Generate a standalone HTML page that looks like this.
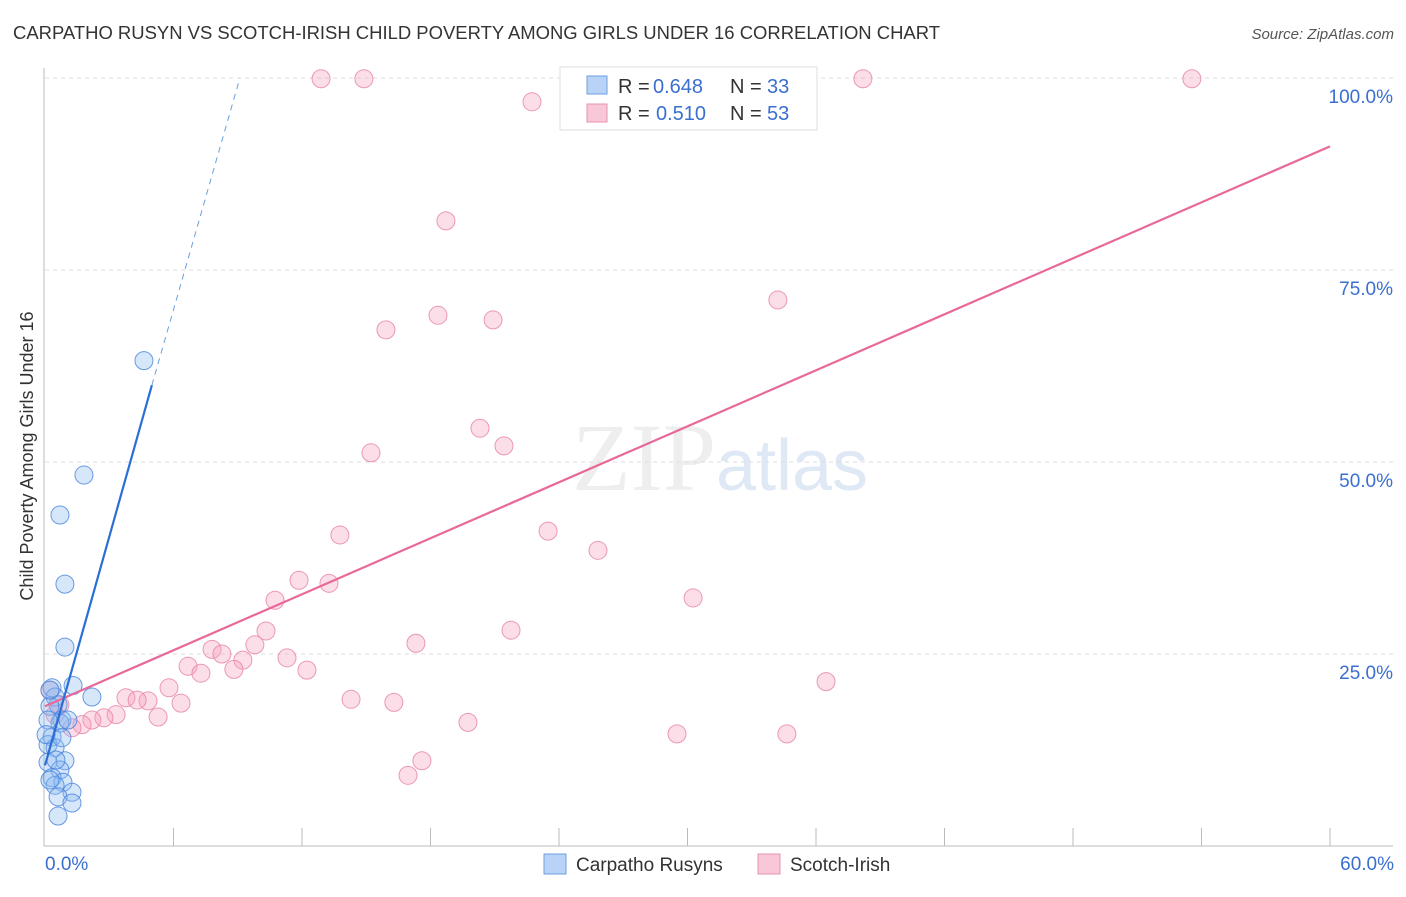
<!DOCTYPE html>
<html><head><meta charset="utf-8"><style>
body{margin:0;background:#fff;font-family:"Liberation Sans",sans-serif}
</style></head><body>
<svg id="chart" width="1406" height="892" xmlns="http://www.w3.org/2000/svg" font-family="Liberation Sans, sans-serif">
<text x="13" y="39" font-size="18" fill="#333" textLength="927" lengthAdjust="spacingAndGlyphs">CARPATHO RUSYN VS SCOTCH-IRISH CHILD POVERTY AMONG GIRLS UNDER 16 CORRELATION CHART</text>
<text x="1394" y="39" font-size="15" fill="#555" text-anchor="end" font-style="italic">Source: ZipAtlas.com</text>
<text x="720" y="490" font-size="96" text-anchor="middle" fill="#eee" font-family="Liberation Serif, serif">ZIP<tspan fill="#dfe8f5" font-family="Liberation Sans, sans-serif" font-size="72">atlas</tspan></text>
<g id="grid"></g><g id="axes"></g><g id="pts"></g><g id="lines"></g>
<text transform="translate(33,456) rotate(-90)" font-size="18" fill="#333" text-anchor="middle">Child Poverty Among Girls Under 16</text>
<g font-size="20">
<rect x="560" y="67" width="257" height="63" fill="#fff" stroke="#ddd"/>
<rect x="587" y="76" width="20" height="18" fill="#b8d3f5" stroke="#6a9fe0"/>
<text x="618" y="93" fill="#333">R =</text><text x="653" y="93" fill="#3a6fd0">0.648</text>
<text x="730" y="93" fill="#333">N =</text><text x="767" y="93" fill="#3a6fd0">33</text>
<rect x="587" y="104" width="20" height="18" fill="#f9c8d8" stroke="#e890b0"/>
<text x="618" y="120" fill="#333">R =</text><text x="656" y="120" fill="#3a6fd0">0.510</text>
<text x="730" y="120" fill="#333">N =</text><text x="767" y="120" fill="#3a6fd0">53</text>
</g>
<g>
<rect x="544" y="854" width="22" height="20" fill="#b8d3f5" stroke="#6a9fe0"/>
<text x="576" y="871" font-size="19" fill="#333">Carpatho Rusyns</text>
<rect x="758" y="854" width="22" height="20" fill="#f9c8d8" stroke="#e890b0"/>
<text x="790" y="871" font-size="19" fill="#333">Scotch-Irish</text>
</g>
</svg>
<script>
const xTicks=[0,60];
const yTicks=[25,50,75,100];
const blueX=[4.62,1.82,0.70,0.93,0.93,1.31,2.19,0.33,0.47,0.61,0.23,0.79,0.70,0.33,0.14,0.47,0.93,0.14,0.70,0.33,0.84,0.47,1.26,0.61,1.26,0.61,0.23,0.14,0.79,1.07,0.23,0.51,0.05];
const blueY=[63.2,48.3,43.1,34.1,25.9,20.9,19.4,20.6,19.4,18.4,18.2,16.4,16.0,14.2,13.2,12.8,11.1,10.9,9.9,8.9,8.3,7.9,7.0,6.4,5.6,3.9,20.3,16.4,14.1,16.4,8.6,11.2,14.5];
const pinkX=[12.89,14.89,38.19,53.55,22.74,18.72,34.22,15.92,18.35,20.92,20.31,21.43,15.22,23.49,13.77,25.82,11.86,13.26,30.26,10.74,10.32,21.76,17.32,9.80,7.80,8.26,9.24,11.30,6.68,12.23,7.28,8.82,36.47,5.79,3.78,4.81,4.30,6.35,14.29,16.29,3.32,2.75,5.28,2.19,1.73,1.26,19.75,29.51,34.64,17.60,16.95,0.70,0.23,0.47];
const pinkY=[99.9,99.9,99.9,99.9,96.9,81.4,71.1,67.2,69.1,68.5,54.4,52.1,51.2,41.0,40.5,38.5,34.6,34.2,32.3,32.0,28.0,28.1,26.4,26.2,25.6,25.0,24.2,24.5,23.4,22.9,22.5,23.0,21.4,20.6,19.3,18.9,19.0,18.6,19.1,18.7,17.1,16.7,16.8,16.4,15.8,15.4,16.1,14.6,14.6,11.1,9.2,18.4,20.3,17.1];
const blueLine=[[0,10.5],[4.99,60.0],[9.1,100]];
const pinkLine=[[0,18.2],[60,91.1]];
const NS='http://www.w3.org/2000/svg';
const X=v=>45+v/60*1285, Y=v=>846-v/100*768;
function mk(p,t,a){const e=document.createElementNS(NS,t);for(const k in a)e.setAttribute(k,a[k]);document.getElementById(p).appendChild(e);return e;}
yTicks.forEach(t=>{
 const l=mk('grid','line',{x1:45,x2:1393,y1:Y(t),y2:Y(t),stroke:'#ddd','stroke-dasharray':'4,4'});
 
 
 const tx=mk('grid','text',{x:1393,y:Y(t)+25,'font-size':19,fill:'#3a6fd0','text-anchor':'end'});
 tx.textContent=t.toFixed(1)+'%';
 
 
});
let a=mk('axes','line',{x1:44,x2:44,y1:68,y2:846,stroke:'#bbb'});


a=mk('axes','line',{x1:44,x2:1393,y1:846,y2:846,stroke:'#bbb'});


for(let i=1;i<=10;i++){const tk=mk('axes','line',{x1:X(i*6),x2:X(i*6),y1:828,y2:846,stroke:'#bbb'});
 
 }
xTicks.forEach((t,i)=>{const tx=mk('axes','text',{x:i?1394:45,y:870,'font-size':19,fill:'#3a6fd0','text-anchor':i?'end':'start'});
 tx.textContent=t.toFixed(1)+'%';
 
 });
pinkX.forEach((v,i)=>{const c=mk('pts','circle',{cx:X(v),cy:Y(pinkY[i]),r:9,fill:'rgba(245,160,190,0.35)',stroke:'rgba(230,130,165,0.8)','stroke-width':1});
 
 });
blueX.forEach((v,i)=>{const c=mk('pts','circle',{cx:X(v),cy:Y(blueY[i]),r:9,fill:'rgba(140,185,240,0.35)',stroke:'rgba(70,130,220,0.8)','stroke-width':1});
 
 });
let l=mk('lines','line',{x1:X(pinkLine[0][0]),y1:Y(pinkLine[0][1]),x2:X(pinkLine[1][0]),y2:Y(pinkLine[1][1]),stroke:'#e8689a','stroke-width':2.2});


l=mk('lines','line',{x1:X(blueLine[0][0]),y1:Y(blueLine[0][1]),x2:X(blueLine[1][0]),y2:Y(blueLine[1][1]),stroke:'#2a6fd6','stroke-width':2.2});


l=mk('lines','line',{x1:X(blueLine[1][0]),y1:Y(blueLine[1][1]),x2:X(blueLine[2][0]),y2:Y(blueLine[2][1]),stroke:'#6a9fe0','stroke-width':1,'stroke-dasharray':'6,5'});


</script>
</body></html>
